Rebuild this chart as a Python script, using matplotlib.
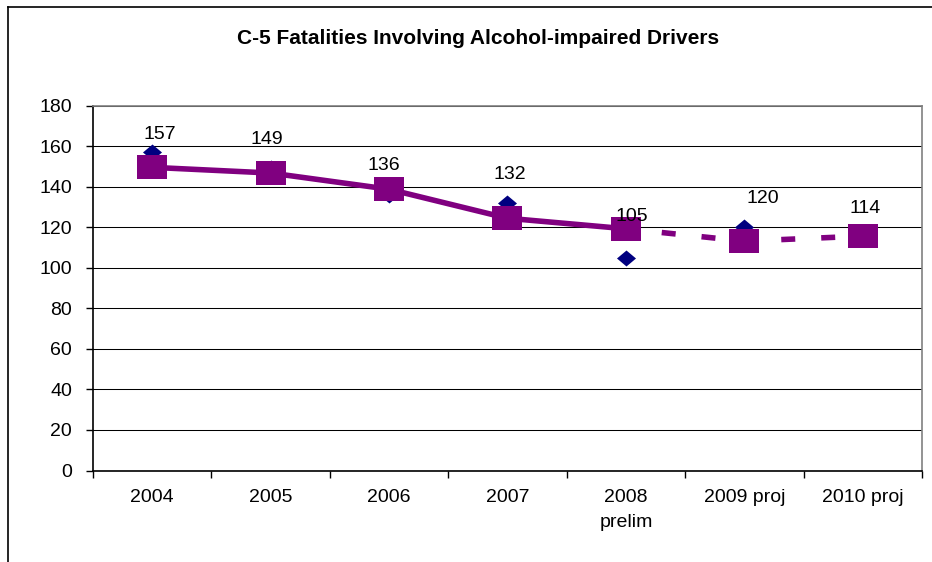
import matplotlib
matplotlib.use("Agg")
import matplotlib.pyplot as plt
from matplotlib.lines import Line2D
from matplotlib.ticker import FixedLocator, NullFormatter, FixedFormatter

# data
categories = ["2004", "2005", "2006", "2007", "2008\nprelim", "2009 proj", "2010 proj"]
fatalities = [157, 149, 136, 132, 105, 120, 114]
trend = [149.5, 146.7, 138.7, 124.4, 119.2, 113.1, 115.6]
last_actual = 4  # trend goes dashed after 2008

# label nudges in pixels (dx, dy to baseline)
label_offsets = [(8, 13), (-4, 24), (-5, 25), (2, 24), (6, 37), (18, 24), (2, 26)]

plt.rcParams['font.family'] = ['Liberation Sans', 'DejaVu Sans']

fig = plt.figure(figsize=(9.32, 5.62), dpi=100)
W, H = 932, 562
ax = fig.add_axes([93 / W, 1 - 470.5 / H, (922 - 93) / W, (470.5 - 105.5) / H])

x = list(range(len(categories)))

diamond = [(-1, 0), (0, 0.84), (1, 0), (0, -0.84)]
rect = [(-1, -0.79), (1, -0.79), (1, 0.79), (-1, 0.79)]

ax.plot(x, fatalities, linestyle='none', marker=diamond, markersize=13.7,
        color='#000080', markeredgewidth=0, zorder=3)

ax.plot(x[:last_actual + 1], trend[:last_actual + 1], color='#800080', lw=4,
        solid_capstyle='butt', zorder=4)
ax.plot(x[last_actual:], trend[last_actual:], color='#800080', lw=4,
        linestyle=(0.72, (2.52, 4.68)), dash_capstyle='butt', zorder=4)
ax.plot(x, trend, linestyle='none', marker=rect, markersize=21,
        color='#800080', markeredgewidth=0, zorder=5)

for i, v in enumerate(fatalities):
    dx, dy = label_offsets[i]
    ax.annotate(str(v), (x[i], v), xytext=(dx, dy), textcoords='offset pixels',
                ha='center', va='baseline', fontsize=14, color='black', zorder=6)

ax.set_xlim(-0.5, len(categories) - 0.5)
ax.set_ylim(0, 180)
ax.set_yticks(range(0, 181, 20))
ax.yaxis.grid(True, color='black', lw=0.75)
ax.set_axisbelow(True)

# ticks between categories, labels at centres
ax.xaxis.set_major_locator(FixedLocator([i - 0.5 for i in range(len(categories) + 1)]))
ax.xaxis.set_major_formatter(NullFormatter())
ax.xaxis.set_minor_locator(FixedLocator(x))
ax.xaxis.set_minor_formatter(FixedFormatter(categories))
ax.tick_params(axis='x', which='major', direction='out', length=5, width=1, color='black')
ax.tick_params(axis='x', which='minor', length=0, pad=13, labelsize=14)
ax.tick_params(axis='y', direction='out', length=5, width=1, color='black', pad=10, labelsize=14)
for lab in ax.xaxis.get_minorticklabels():
    lab.set_linespacing(1.65)

ax.spines['left'].set_color('black')
ax.spines['bottom'].set_color('black')
ax.spines['top'].set_color('#808080')
ax.spines['right'].set_color('#808080')
for s in ax.spines.values():
    s.set_linewidth(1.2)

fig.text(478 / W, 1 - 44 / H, "C-5 Fatalities Involving Alcohol-impaired Drivers",
         ha='center', va='baseline', fontsize=15, fontweight='bold')

# chart area border (only left and top edges visible)
fig.add_artist(Line2D([8 / W, 8 / W], [0, 1 - 7 / H], transform=fig.transFigure,
                      color='black', lw=1.2))
fig.add_artist(Line2D([8 / W, 1], [1 - 7 / H, 1 - 7 / H], transform=fig.transFigure,
                      color='black', lw=1.2))

fig.savefig("out.png", dpi=100)
